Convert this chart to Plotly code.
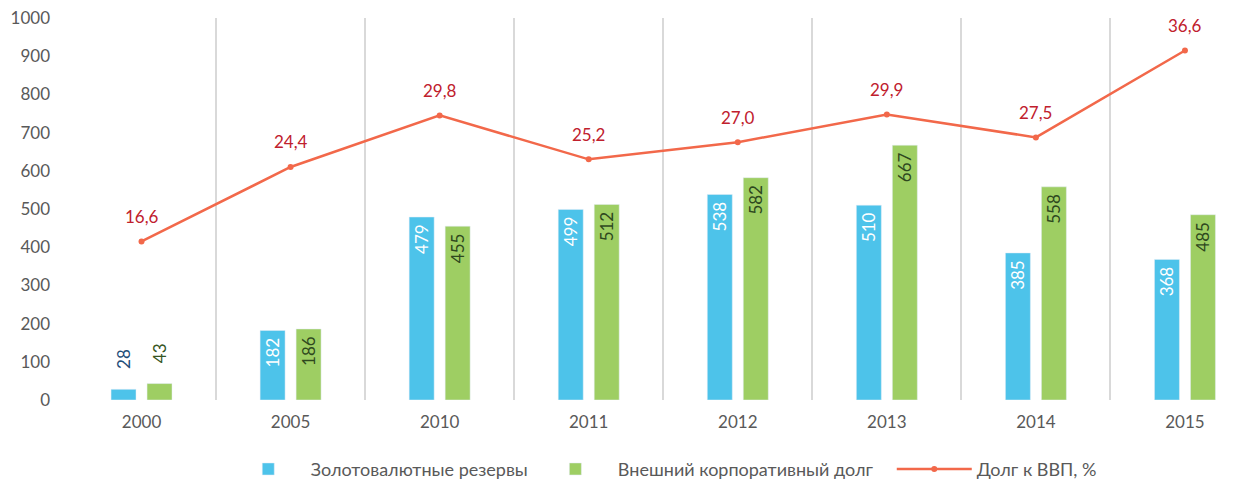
import plotly.graph_objects as go

# данные
годы = ['2000', '2005', '2010', '2011', '2012', '2013', '2014', '2015']
резервы = [28, 182, 479, 499, 538, 510, 385, 368]
долг = [43, 186, 455, 512, 582, 667, 558, 485]
долг_ввп = [16.6, 24.4, 29.8, 25.2, 27.0, 29.9, 27.5, 36.6]

синий = 'rgb(77,195,234)'
зелёный = 'rgb(158,206,99)'
оранж = 'rgb(242,104,74)'
серый = 'rgb(89,89,89)'
шрифт = 'Lato'
nb = '\u00a0'


def подписи(vals):
    # пробелы: снаружи подпись отходит от столбца, внутри — от верхнего края
    return [nb * 4 + str(v) + nb for v in vals]


def места(vals):
    # низкие столбцы — подпись над столбцом
    return ['outside' if v < 100 else 'inside' for v in vals]


fig = go.Figure()

fig.add_trace(go.Bar(x=годы, y=резервы, name='Золотовалютные резервы', marker_color=синий,
                     text=подписи(резервы), textposition=места(резервы), textangle=-90,
                     insidetextanchor='end', cliponaxis=False, constraintext='none',
                     insidetextfont=dict(color='white', size=17, family=шрифт),
                     outsidetextfont=dict(color='rgb(31,78,121)', size=17, family=шрифт)))
fig.add_trace(go.Bar(x=годы, y=долг, name='Внешний корпоративный долг' + nb * 3,
                     marker_color=зелёный,
                     text=подписи(долг), textposition=места(долг), textangle=-90,
                     insidetextanchor='end', cliponaxis=False, constraintext='none',
                     insidetextfont=dict(color='rgb(46,72,30)', size=17, family=шрифт),
                     outsidetextfont=dict(color='rgb(55,86,35)', size=17, family=шрифт)))
fig.add_trace(go.Scatter(x=годы, y=долг_ввп, name='Долг к ВВП, %', mode='lines+markers',
                         line=dict(color=оранж, width=2.5), marker=dict(color=оранж, size=6),
                         yaxis='y2', cliponaxis=False))

# подписи над линией (x — индекс категории)
for i, v in enumerate(долг_ввп):
    fig.add_annotation(x=i, y=v, xref='x', yref='y2', text=f'{v:.1f}'.replace('.', ','),
                       showarrow=False, yshift=25,
                       font=dict(color='rgb(192,32,45)', size=17, family=шрифт))

# страница сдвинута на 8px полями body, поэтому поля меньше
fig.update_layout(
    width=1250, height=479,
    margin=dict(l=59, r=0, t=10, b=87),
    plot_bgcolor='white', paper_bgcolor='white',
    font=dict(family=шрифт, size=17, color=серый),
    barmode='group', bargap=0.517, bargroupgap=0.306,
    xaxis=dict(type='category', range=[-0.5, 7.49], tickson='boundaries', showgrid=True,
               gridcolor='rgb(217,217,217)', gridwidth=1.5, ticks='', showline=False,
               tickfont=dict(size=17, color=серый), ticklabelstandoff=10),
    yaxis=dict(range=[0, 1000], dtick=100, showgrid=False, zeroline=False, showline=False,
               tickfont=dict(size=17, color=серый), ticklabelstandoff=16,
               ticklabeloverflow='allow'),
    yaxis2=dict(range=[0, 40], overlaying='y', side='right', visible=False),
    legend=dict(orientation='h', xref='container', yref='container', x=0.5246, xanchor='center',
                y=0.037, yanchor='middle', font=dict(size=18, color=серый),
                itemwidth=75, traceorder='normal'),
    showlegend=True,
)

fig.write_html('out.html')
